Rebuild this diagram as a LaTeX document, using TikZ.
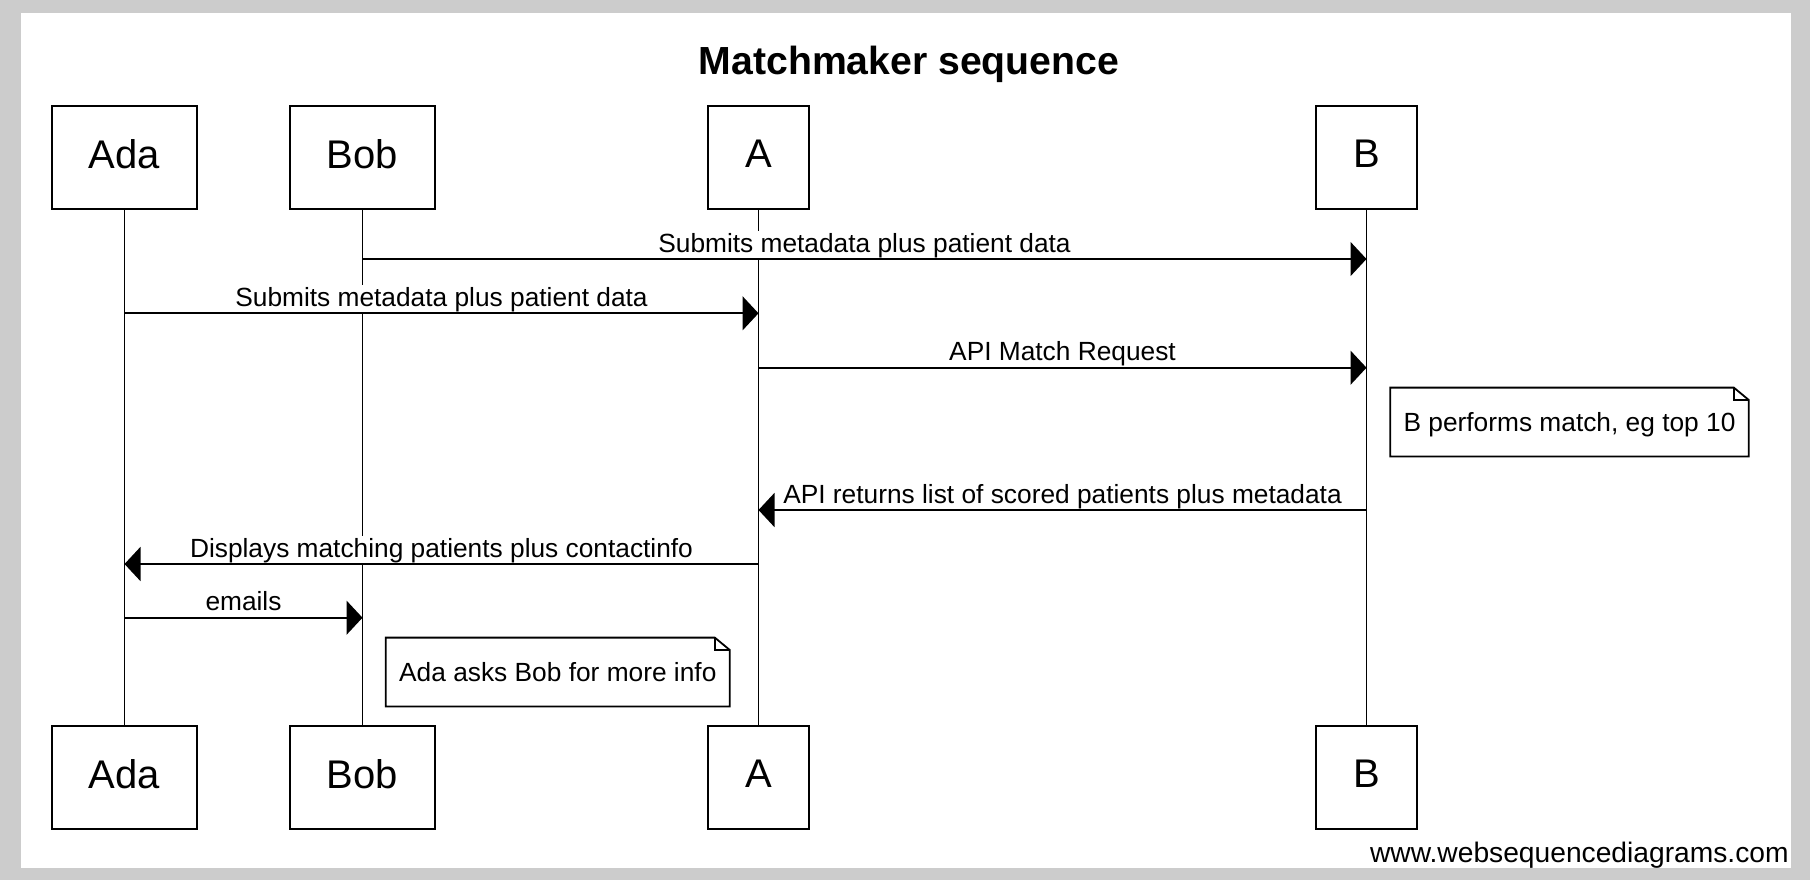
\documentclass[tikz,border=0pt]{standalone}
\usepackage{fontspec}
\setmainfont{Liberation Sans}
\usepackage{tikz}
\usetikzlibrary{arrows.meta,positioning,calc}
\definecolor{framegray}{HTML}{CCCCCC}
\tikzset{
  actor/.style={rectangle,draw=black,line width=1pt,fill=white,minimum height=51.5pt,
                inner xsep=18.5pt,text depth=3pt,font=\fontsize{20}{24}\selectfont},
  lifeline/.style={draw=black,line width=0.8pt},
  msg/.style={-{Triangle[length=8pt,width=17pt]},draw=black,line width=0.85pt},
  msglabel/.style={fill=white,inner sep=1pt,anchor=base,font=\fontsize{13.15}{15}\selectfont},
  note/.style={rectangle,fill=white,inner xsep=6.5pt,minimum height=34pt,text depth=0pt,
               font=\fontsize{13.15}{15}\selectfont},
  noteline/.style={draw=black,line width=0.9pt},
}

\begin{document}
\begin{tikzpicture}[x=0.5pt,y=-0.5pt]
  % --- frame and title ---
  \fill[framegray] (0,0) rectangle (1810,880);
  \fill[white] (21,13) rectangle (1791,868);
  \node[anchor=base,font=\fontsize{19.6}{24}\selectfont\bfseries] (title) at (909,74) {Matchmaker sequence};
  % --- participants ---
  \node[actor] (adaTop) at (124.5,157) {Ada};
  \node[actor] (bobTop) at (362.5,157) {Bob};
  \node[actor] (aTop)   at (758.5,157) {A};
  \node[actor] (bTop)   at (1366.5,157) {B};
  \node[actor] (adaBot) at (124.5,777) {Ada};
  \node[actor] (bobBot) at (362.5,777) {Bob};
  \node[actor] (aBot)   at (758.5,777) {A};
  \node[actor] (bBot)   at (1366.5,777) {B};
  % --- lifelines ---
  \draw[lifeline] (adaTop) -- (adaBot);
  \draw[lifeline] (bobTop) -- (bobBot);
  \draw[lifeline] (aTop) -- (aBot);
  \draw[lifeline] (bTop) -- (bBot);
  % --- message rows ---
  \coordinate (m1) at (0,259);
  \coordinate (m2) at (0,313.3);
  \coordinate (m3) at (0,367.7);
  \coordinate (m4) at (0,510);
  \coordinate (m5) at (0,564);
  \coordinate (m6) at (0,617.7);
  % --- labels ---
  \node[msglabel] (l1) at ($(bobTop |- m1)!0.5!(bTop |- m1)+(0,-7)$) {Submits metadata plus patient data};
  \node[msglabel] (l2) at ($(adaTop |- m2)!0.5!(aTop |- m2)+(0,-7)$) {Submits metadata plus patient data};
  \node[msglabel] (l3) at ($(aTop |- m3)!0.5!(bTop |- m3)+(0,-7)$) {API Match Request};
  \node[msglabel] (l4) at ($(aTop |- m4)!0.5!(bTop |- m4)+(0,-7)$) {API returns list of scored patients plus metadata};
  \node[msglabel] (l5) at ($(adaTop |- m5)!0.5!(aTop |- m5)+(0,-7)$) {Displays matching patients plus contactinfo};
  \node[msglabel] (l6) at ($(adaTop |- m6)!0.5!(bobTop |- m6)+(0,-7)$) {emails};
  % --- messages ---
  \draw[msg] (bobTop |- m1) -- (bTop |- m1);
  \draw[msg] (adaTop |- m2) -- (aTop |- m2);
  \draw[msg] (aTop |- m3) -- (bTop |- m3);
  \draw[msg] (bTop |- m4) -- (aTop |- m4);
  \draw[msg] (aTop |- m5) -- (adaTop |- m5);
  \draw[msg] (adaTop |- m6) -- (bobTop |- m6);
  % --- notes ---
  \node[note] (noteB) at (1569.5,422) {B performs match, eg top 10};
  \node[note] (noteAda) at (557.8,672) {Ada asks Bob for more info};
  \draw[noteline] (noteB.south west) -- (noteB.north west) -- ([xshift=-7.5pt]noteB.north east)
    -- ([yshift=-6.2pt]noteB.north east) -- (noteB.south east) -- cycle;
  \draw[noteline] ([xshift=-7.5pt]noteB.north east) -- ([xshift=-7.5pt,yshift=-6.2pt]noteB.north east)
    -- ([yshift=-6.2pt]noteB.north east);
  \draw[noteline] (noteAda.south west) -- (noteAda.north west) -- ([xshift=-7.5pt]noteAda.north east)
    -- ([yshift=-6.2pt]noteAda.north east) -- (noteAda.south east) -- cycle;
  \draw[noteline] ([xshift=-7.5pt]noteAda.north east) -- ([xshift=-7.5pt,yshift=-6.2pt]noteAda.north east)
    -- ([yshift=-6.2pt]noteAda.north east);
  % --- footer ---
  \node[anchor=base east,inner sep=0pt,font=\fontsize{14.1}{17}\selectfont] (site) at (1789,862) {www.websequencediagrams.com};
\end{tikzpicture}
\end{document}
